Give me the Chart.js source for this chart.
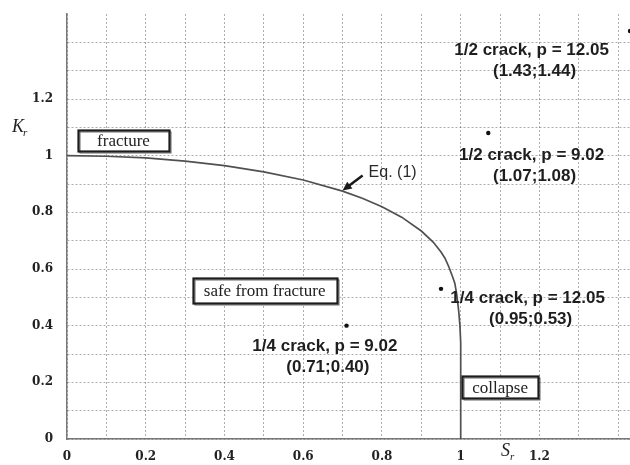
<!DOCTYPE html>
<html>
<head>
<meta charset="utf-8">
<script src="https://cdn.jsdelivr.net/npm/chart.js@4/dist/chart.umd.min.js"></script>
<style>
  html, body { margin: 0; padding: 0; background: #fff; overflow: hidden; }
  #wrap { width: 630px; height: 465px; position: relative; }
</style>
</head>
<body>
<div id="wrap"><canvas id="c"></canvas></div>
<script>
// Failure assessment curve, Eq. (1): load ratio Sr vs. fracture ratio Kr
const curveSr = [0, 0.1, 0.2, 0.3, 0.4, 0.5, 0.6, 0.7, 0.75, 0.8, 0.85, 0.9, 0.93, 0.95, 0.96, 0.97, 0.98, 0.985, 0.99, 0.995, 0.998, 1.0, 1.0];
const curveKr = [1.0, 0.998, 0.992, 0.981, 0.965, 0.943, 0.914, 0.875, 0.850, 0.820, 0.783, 0.734, 0.695, 0.660, 0.638, 0.607, 0.570, 0.550, 0.510, 0.450, 0.400, 0.340, 0];

// Assessment points for the cracked cases
const caseNames = ['1/2 crack, p = 12.05', '1/2 crack, p = 9.02', '1/4 crack, p = 12.05', '1/4 crack, p = 9.02'];
const caseSr = [1.43, 1.07, 0.95, 0.71];
const caseKr = [1.44, 1.08, 0.53, 0.40];

// Axis tick labels
const xTickLabels = [0, 0.2, 0.4, 0.6, 0.8, 1, 1.2];
const yTickLabels = [0, 0.2, 0.4, 0.6, 0.8, 1, 1.2];

// Region labels
const regionNames = ['fracture', 'safe from fracture', 'collapse'];

const fmt = v => String(Math.round(v * 10) / 10);
const tickText = (list) => (v) => {
  const r = Math.round(v * 10) / 10;
  return list.some(t => Math.abs(t - r) < 1e-6) ? fmt(r) : '';
};

// Placement of the text labels (data coordinates of the label centres)
const caseLabelPos = [[1.18, 1.372], [1.18, 1.0], [1.17, 0.497], [0.655, 0.327]];
const regionPos = [[0.1435, 1.052, 91, 21], [0.502, 0.524, 144, 25], [1.10, 0.183, 76, 22]];

const annotate = {
  id: 'annotate',
  afterDatasetsDraw(chart) {
    const ctx = chart.ctx;
    const xs = chart.scales.x, ys = chart.scales.y;
    const X = v => xs.getPixelForValue(v), Y = v => ys.getPixelForValue(v);
    ctx.save();

    // case labels with their coordinates
    ctx.fillStyle = '#1e1e1e';
    ctx.font = 'bold 17px "Liberation Sans", Arial, sans-serif';
    ctx.textAlign = 'center';
    ctx.textBaseline = 'middle';
    caseNames.forEach((name, i) => {
      const px = X(caseLabelPos[i][0]), py = Y(caseLabelPos[i][1]);
      ctx.fillText(name, px, py);
      ctx.fillText('(' + caseSr[i].toFixed(2) + ';' + caseKr[i].toFixed(2) + ')', px + 3, py + 21);
    });

    // boxed region labels
    ctx.font = '17px "Liberation Serif", "Times New Roman", serif';
    regionNames.forEach((name, i) => {
      const [dx, dy, w, h] = regionPos[i];
      const cx = X(dx), cy = Y(dy);
      const l = Math.round(cx - w / 2) + 0.5, t = Math.round(cy - h / 2) + 0.5;
      ctx.fillStyle = '#fff';
      ctx.fillRect(l, t, w, h);
      ctx.strokeStyle = '#6a6a6a';
      ctx.lineWidth = 1;
      ctx.strokeRect(l + 1.5, t + 1.5, w, h);
      ctx.strokeStyle = '#1c1c1c';
      ctx.lineWidth = 2.2;
      ctx.strokeRect(l, t, w, h);
      ctx.fillStyle = '#222';
      ctx.fillText(name, cx, cy + 1);
    });

    // Eq. (1) pointer
    const tipX = X(0.70), tipY = Y(0.877);
    const tailX = tipX + 20, tailY = tipY - 15;
    ctx.strokeStyle = '#1a1a1a';
    ctx.lineWidth = 2.5;
    ctx.beginPath();
    ctx.moveTo(tailX, tailY);
    ctx.lineTo(tipX + 6, tipY - 4.5);
    ctx.stroke();
    const ang = Math.atan2(tipY - tailY, tipX - tailX);
    ctx.fillStyle = '#1a1a1a';
    ctx.beginPath();
    ctx.moveTo(tipX, tipY);
    ctx.lineTo(tipX - 10 * Math.cos(ang - 0.45), tipY - 10 * Math.sin(ang - 0.45));
    ctx.lineTo(tipX - 10 * Math.cos(ang + 0.45), tipY - 10 * Math.sin(ang + 0.45));
    ctx.closePath();
    ctx.fill();
    ctx.fillStyle = '#2a2a2a';
    ctx.font = '16px "Liberation Sans", Arial, sans-serif';
    ctx.textAlign = 'left';
    ctx.fillText('Eq. (1)', tailX + 6, tailY - 3);

    // axis titles K_r and S_r
    ctx.fillStyle = '#222';
    ctx.textAlign = 'left';
    ctx.font = 'italic 18px "Liberation Serif", "Times New Roman", serif';
    ctx.fillText('K', 12, 127);
    ctx.font = 'italic 11px "Liberation Serif", "Times New Roman", serif';
    ctx.fillText('r', 23, 133);
    ctx.font = 'italic 18px "Liberation Serif", "Times New Roman", serif';
    ctx.fillText('S', 501, 451);
    ctx.font = 'italic 11px "Liberation Serif", "Times New Roman", serif';
    ctx.fillText('r', 510, 457);

    ctx.restore();
  }
};

const gridColor = (ctx) => (ctx.tick && ctx.tick.value > 1.45 ? 'rgba(0,0,0,0)' : 'rgba(60,60,60,0.42)');

// fixed axis sizes, no extra label overhang padding
const fitAxis = (w, h) => (s) => {
  if (w !== null) s.width = w;
  if (h !== null) s.height = h;
  s.paddingTop = 0; s.paddingBottom = 0; s.paddingLeft = 0; s.paddingRight = 0;
};

new Chart(document.getElementById('c'), {
  type: 'scatter',
  data: {
    datasets: [
      {
        label: 'Eq. (1)',
        data: curveSr.map((s, i) => ({ x: s, y: curveKr[i] })),
        showLine: true,
        borderColor: '#505050',
        borderWidth: 1.7,
        pointRadius: 0,
        tension: 0,
        fill: false
      },
      {
        label: 'cases',
        data: caseSr.map((s, i) => ({ x: s, y: caseKr[i] })),
        pointRadius: 2.2,
        pointBackgroundColor: '#111',
        pointBorderColor: '#111',
        pointBorderWidth: 0
      }
    ]
  },
  plugins: [annotate],
  options: {
    responsive: true,
    maintainAspectRatio: false,
    animation: false,
    clip: false,
    layout: { autoPadding: false, padding: { top: 14, right: 0, left: 0, bottom: 0 } },
    plugins: { legend: { display: false }, tooltip: { enabled: false } },
    scales: {
      x: {
        type: 'linear',
        min: 0,
        max: 1.43,
        afterFit: fitAxis(null, 26),
        ticks: {
          stepSize: 0.1,
          includeBounds: false,
          autoSkip: false,
          maxRotation: 0,
          padding: 11,
          color: '#222',
          font: { family: '"DejaVu Serif", serif', size: 12, weight: 'bold' },
          callback: tickText(xTickLabels)
        },
        grid: { color: gridColor, lineWidth: 1, drawTicks: false },
        border: { display: true, color: '#777', width: 1.5, dash: [2, 2] }
      },
      y: {
        type: 'linear',
        min: 0,
        max: 1.5,
        afterFit: fitAxis(67, null),
        ticks: {
          stepSize: 0.1,
          includeBounds: false,
          autoSkip: false,
          padding: 14,
          color: '#222',
          font: { family: '"DejaVu Serif", serif', size: 12, weight: 'bold' },
          callback: tickText(yTickLabels)
        },
        grid: { color: gridColor, lineWidth: 1, drawTicks: false },
        border: { display: true, color: '#777', width: 1.5, dash: [2, 2] }
      }
    }
  }
});
</script>
</body>
</html>
